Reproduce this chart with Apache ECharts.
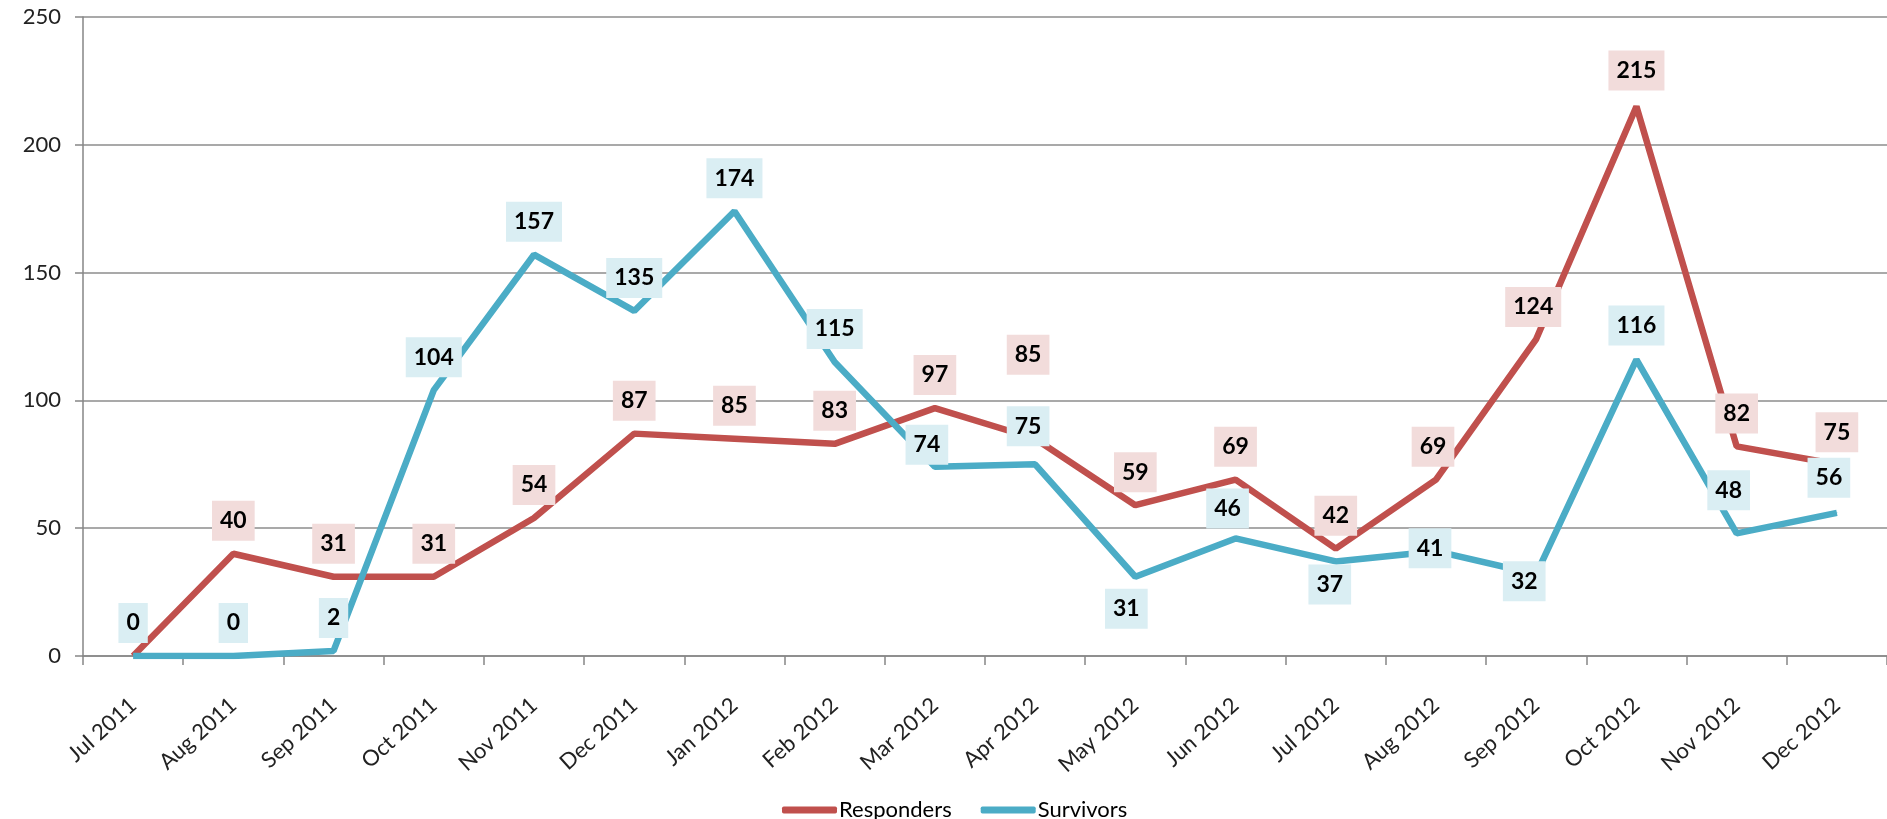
<!DOCTYPE html>
<html>
<head>
<meta charset="utf-8">
<script src="https://cdn.jsdelivr.net/npm/echarts@6/dist/echarts.min.js"></script>
<style>
html,body{margin:0;padding:0;background:#fff;}
#chart{width:1887px;height:819px;}
</style>
</head>
<body>
<div id="chart"></div>
<script>
const months = ['Jul 2011','Aug 2011','Sep 2011','Oct 2011','Nov 2011','Dec 2011','Jan 2012','Feb 2012','Mar 2012','Apr 2012','May 2012','Jun 2012','Jul 2012','Aug 2012','Sep 2012','Oct 2012','Nov 2012','Dec 2012'];
const responders = [0,40,31,31,54,87,85,83,97,85,59,69,42,69,124,215,82,75];
const survivors = [0,0,2,104,157,135,174,115,74,75,31,46,37,41,32,116,48,56];
const yTicks = {min:0, max:250, interval:50};

// label placement (pixel offsets from the point), null = label hidden
const D = [0,-33];
const respLabelOffsets = [null,D,D,D,D,D,D,D,D,[-7,-84],D,D,D,[-3,-33],[-3,-32],[0,-36],D,[0,-32]];
const survLabelOffsets = [D,D,D,D,D,D,D,D,[-8,-22],[-7,-38],[-9,32],[-8,-30],[-6,23],[-6,-3],[-12,7],[0,-34],[-8,-43],[-8,-35]];

const FONT = 'Lato, "Open Sans", sans-serif';

function buildData(values, offsets, bg){
  return values.map((v,i)=>{
    const off = offsets[i];
    if(!off) return {value:v, label:{show:false}};
    return {value:v, label:{show:true, position:'inside', offset:off, backgroundColor:bg}};
  });
}

const chart = echarts.init(document.getElementById('chart'));
const labelBase = {
  show:true, position:'inside', color:'#000', fontFamily:FONT, fontWeight:'bold',
  fontSize:23, lineHeight:24, padding:[8,8], formatter:'{c}'
};
chart.setOption({
  animation:false,
  grid:{left:83, right:-6, top:17, bottom:163, containLabel:false},
  legend:{
    data:['Responders','Survivors'],
    left:777, top:794, icon:'roundRect', itemWidth:55, itemHeight:7, itemGap:29,
    textStyle:{fontFamily:FONT, fontSize:22, color:'#000', padding:[0,0,0,-3]}
  },
  xAxis:{
    type:'category', data:months, boundaryGap:true,
    axisLine:{lineStyle:{color:'#868686', width:1.5}},
    axisTick:{show:true, length:9, lineStyle:{color:'#868686', width:1.5}},
    axisLabel:{rotate:42, margin:46, color:'#222', fontFamily:FONT, fontSize:22}
  },
  yAxis:{
    type:'value', min:yTicks.min, max:yTicks.max, interval:yTicks.interval,
    axisLine:{show:true, lineStyle:{color:'#868686', width:1.5}},
    axisTick:{show:true, length:8, lineStyle:{color:'#868686', width:1.5}},
    splitLine:{lineStyle:{color:'#8c8c8c', width:1.5}},
    axisLabel:{margin:22, color:'#222', fontFamily:FONT, fontSize:22}
  },
  series:[
    {
      name:'Responders', type:'line', data:buildData(responders, respLabelOffsets, '#F2DCDB'),
      symbol:'circle', symbolSize:1, showAllSymbol:true,
      lineStyle:{color:'#C0504D', width:6.5}, itemStyle:{color:'#C0504D'},
      label:labelBase, z:2
    },
    {
      name:'Survivors', type:'line', data:buildData(survivors, survLabelOffsets, '#DAEEF3'),
      symbol:'circle', symbolSize:1, showAllSymbol:true,
      lineStyle:{color:'#4BACC6', width:6.5}, itemStyle:{color:'#4BACC6'},
      label:labelBase, z:3
    }
  ]
});
</script>
</body>
</html>
